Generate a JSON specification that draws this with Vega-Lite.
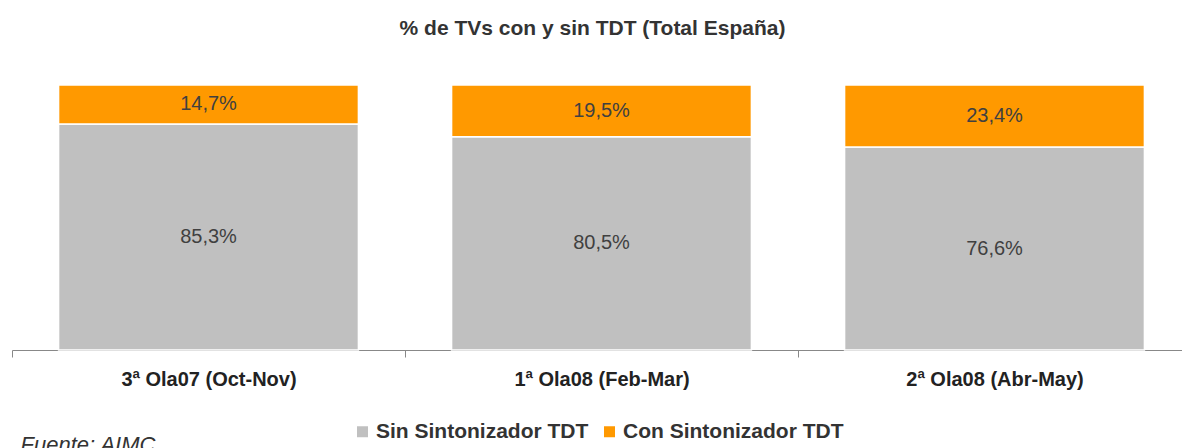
{
  "$schema": "https://vega.github.io/schema/vega-lite/v6.json",
  "autosize": "none",
  "width": 1179,
  "height": 265,
  "padding": {"left": 12, "top": 85, "right": 0, "bottom": 98},
  "background": "white",
  "config": {
    "font": "Liberation Sans",
    "view": {"stroke": null}
  },
  "title": {
    "text": "% de TVs con y sin TDT (Total España)",
    "fontSize": 21,
    "fontWeight": "bold",
    "color": "#333333",
    "anchor": "middle",
    "frame": "group",
    "dx": -9,
    "offset": 45
  },
  "data": {
    "values": [
      {"periodo": "3ª Ola07 (Oct-Nov)", "tipo": "Sin Sintonizador TDT", "orden": 1, "valor": 85.3, "etiqueta": "85,3%"},
      {"periodo": "3ª Ola07 (Oct-Nov)", "tipo": "Con Sintonizador TDT", "orden": 2, "valor": 14.7, "etiqueta": "14,7%"},
      {"periodo": "1ª Ola08 (Feb-Mar)", "tipo": "Sin Sintonizador TDT", "orden": 1, "valor": 80.5, "etiqueta": "80,5%"},
      {"periodo": "1ª Ola08 (Feb-Mar)", "tipo": "Con Sintonizador TDT", "orden": 2, "valor": 19.5, "etiqueta": "19,5%"},
      {"periodo": "2ª Ola08 (Abr-May)", "tipo": "Sin Sintonizador TDT", "orden": 1, "valor": 76.6, "etiqueta": "76,6%"},
      {"periodo": "2ª Ola08 (Abr-May)", "tipo": "Con Sintonizador TDT", "orden": 2, "valor": 23.4, "etiqueta": "23,4%"}
    ]
  },
  "transform": [
    {"stack": "valor", "groupby": ["periodo"], "sort": [{"field": "orden", "order": "ascending"}], "as": ["v0", "v1"]},
    {"calculate": "(datum.v0 + datum.v1) / 2", "as": "vmid"}
  ],
  "encoding": {
    "x": {
      "field": "periodo",
      "type": "nominal",
      "sort": null,
      "scale": {"paddingInner": 0, "paddingOuter": 0},
      "axis": {
        "title": "Fuente: AIMC",
        "titleFontStyle": "italic",
        "titleFontWeight": "normal",
        "titleFontSize": 22,
        "titleColor": "#333333",
        "titleAnchor": "start",
        "titleAlign": "left",
        "titleBaseline": "alphabetic",
        "titleX": 8,
        "titleY": 101,
        "labelAngle": 0,
        "labelFontSize": 20,
        "labelFontWeight": "bold",
        "labelColor": "#222222",
        "labelPadding": 12,
        "tickBand": "extent",
        "tickSize": 7,
        "tickColor": "#888888",
        "domainColor": "#888888",
        "labelLimit": 400
      }
    }
  },
  "layer": [
    {
      "mark": {"type": "bar", "stroke": "white", "strokeWidth": 1.5, "width": {"band": 0.763}},
      "encoding": {
        "y": {"field": "v0", "type": "quantitative", "scale": {"domain": [0, 100], "nice": false}, "axis": null},
        "y2": {"field": "v1"},
        "color": {
          "field": "tipo",
          "type": "nominal",
          "sort": ["Sin Sintonizador TDT", "Con Sintonizador TDT"],
          "scale": {"domain": ["Sin Sintonizador TDT", "Con Sintonizador TDT"], "range": ["#C0C0C0", "#FF9900"]},
          "legend": {
            "title": null,
            "orient": "none",
            "direction": "horizontal",
            "legendX": 340,
            "legendY": 336,
            "symbolType": "square",
            "symbolSize": 121,
            "symbolStrokeWidth": 0,
            "labelFontSize": 21,
            "labelFontWeight": "bold",
            "labelColor": "#333333",
            "columnPadding": 10,
            "labelOffset": 3,
            "labelLimit": 400
          }
        }
      }
    },
    {
      "mark": {"type": "text", "fontSize": 20, "color": "#404040", "baseline": "middle"},
      "encoding": {
        "y": {"field": "vmid", "type": "quantitative"},
        "text": {"field": "etiqueta"}
      }
    }
  ]
}
